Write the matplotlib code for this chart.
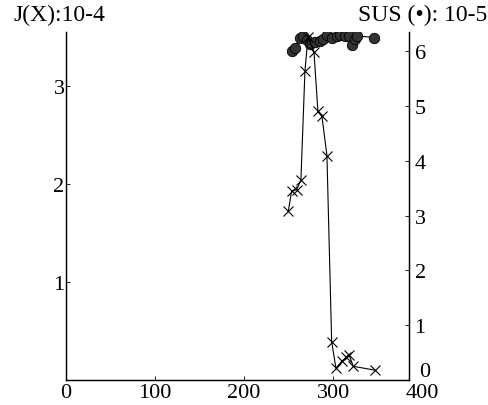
import matplotlib
matplotlib.use("Agg")
import matplotlib.pyplot as plt

plt.rcParams['font.family'] = ['Liberation Serif', 'DejaVu Serif']

# J(X) (crosses, left axis, units of 10-4) vs temperature
jx_t = [249.5, 253.3, 258.9, 263.7, 268.2, 271.6, 278.3, 282.8, 287.3, 292.9,
        298.2, 303.0, 309.4, 314.3, 317.6, 322.4, 346.8]
jx_val = [1.72, 1.93, 1.94, 2.04, 3.15, 3.50, 3.35, 2.74, 2.69, 2.29,
          0.39, 0.12, 0.19, 0.23, 0.26, 0.14, 0.10]

# susceptibility (dots, right axis, units of 10-5)
sus_t = [253.3, 257.0, 262.6, 266.3, 270.1, 273.8, 279.5, 285.1, 288.8, 293.3,
         298.2, 303.8, 307.5, 313.1, 318.0, 320.7, 324.4, 327.0, 345.7]
sus_val = [6.00, 6.05, 6.25, 6.27, 6.20, 6.14, 6.16, 6.18, 6.23, 6.30,
           6.25, 6.28, 6.30, 6.27, 6.28, 6.12, 6.22, 6.28, 6.25]

x_ticks = [0, 100, 200, 300]
left_ticks = [1, 2, 3]
right_ticks = [1, 2, 3, 4, 5, 6]

fig = plt.figure(figsize=(4.88, 4.06), dpi=100)
ax = fig.add_axes([0.1352, 0.0616, 0.7029, 0.857])
ax2 = ax.twinx()
# crosses drawn above the dots
ax.set_zorder(ax2.get_zorder() + 1)
ax.patch.set_visible(False)

ax2.plot(sus_t, sus_val, color='black', lw=0.8, marker='o', ms=7.5,
         mfc='#333333', mec='black', mew=0.6)
ax.plot(jx_t, jx_val, color='black', lw=0.8, marker='x', ms=6.5, mew=0.8)

ax.set_xlim(0, 385)
ax.set_ylim(0, 3.55)
ax2.set_ylim(0, 6.35)

for a in (ax, ax2):
    a.spines['top'].set_visible(False)
    for s in a.spines.values():
        s.set_linewidth(0.9)

ax.set_xticks(x_ticks)
ax.set_yticks(left_ticks)
ax2.set_yticks(right_ticks)
ax.tick_params(direction='in', length=3, width=0.6, labelsize=16, pad=2)
ax.tick_params(axis='y', pad=1)
ax2.tick_params(direction='in', length=3, width=0.6, labelsize=16, pad=4)

# labels drawn outside the regular tick range
ax.text(400, -0.008, '400', transform=ax.get_xaxis_transform(), ha='center',
        va='top', fontsize=16, clip_on=False)
ax2.text(1.03, 0.025, '0', transform=ax2.transAxes, ha='left', va='center',
         fontsize=16, clip_on=False)

fig.text(0.027, 0.963, 'J(X):10-4', ha='left', va='center', fontsize=17)
fig.text(0.998, 0.963, 'SUS (•): 10-5', ha='right', va='center', fontsize=17)

fig.savefig('out.png', dpi=100)
